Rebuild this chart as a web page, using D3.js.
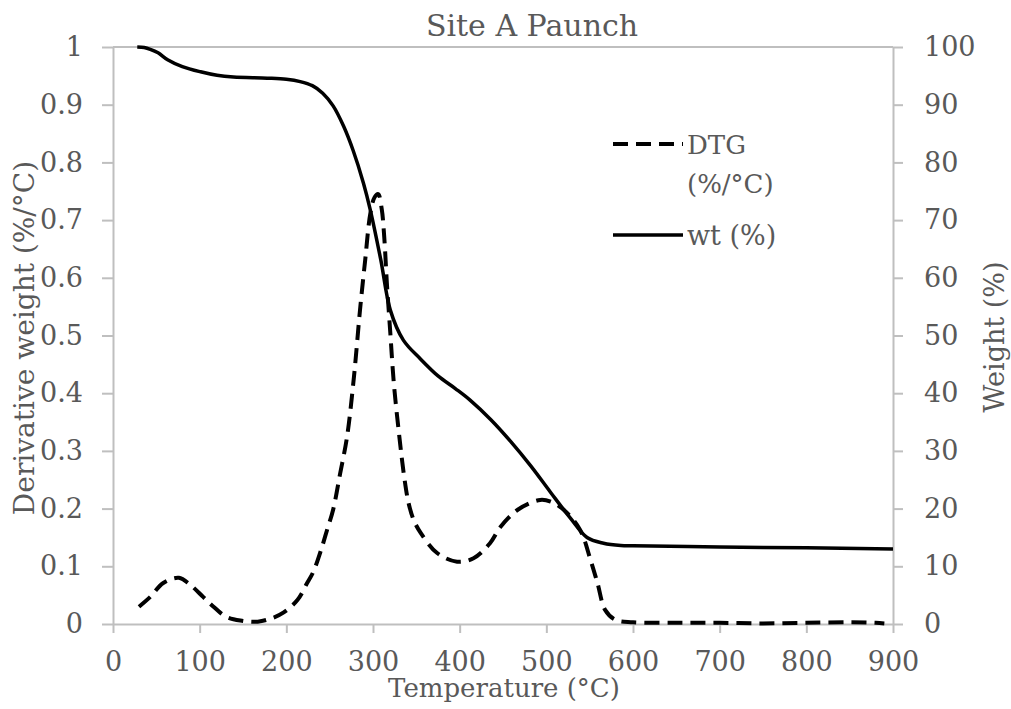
<!DOCTYPE html>
<html>
<head>
<meta charset="utf-8">
<script src="https://cdn.jsdelivr.net/npm/d3@7"></script>
<style>
  body { margin: 0; background: #fff; }
  text { font-family: "DejaVu Serif", serif; fill: #595959; }
</style>
</head>
<body>
<div id="chart"></div>
<script>
// temperature (°C) and weight (%)
var wtTemp = [28, 36, 43, 52, 63, 80, 101, 120, 139, 178, 200, 216, 230, 242, 254, 266, 277, 289, 297, 309, 320, 335, 355, 375, 395, 412, 436, 459, 482, 505, 528, 547, 566, 586, 600, 700, 800, 900];
var wtValue = [100, 99.9, 99.6, 99.0, 97.8, 96.6, 95.7, 95.1, 94.8, 94.6, 94.4, 94.0, 93.3, 92.0, 89.8, 86.3, 82.1, 76.4, 71.7, 63.1, 54.4, 49.2, 45.9, 43.0, 40.8, 38.8, 35.4, 31.6, 27.4, 22.8, 18.3, 15.0, 14.0, 13.6, 13.55, 13.35, 13.2, 13.0];

// temperature (°C) and DTG (%/°C)
var dtgTemp = [30, 43, 58, 76, 89, 104, 116, 130, 147, 167, 185, 197, 213, 224, 231, 240, 247, 254, 262, 270, 278, 285, 291, 297, 302, 306, 310, 313, 316, 320, 324, 330, 336, 341, 347, 355, 374, 397, 416, 435, 447, 467, 493, 505, 520, 539, 551, 559, 568, 580, 600, 650, 700, 750, 800, 851, 880, 890];
var dtgValue = [0.030, 0.047, 0.071, 0.080, 0.068, 0.047, 0.030, 0.013, 0.006, 0.004, 0.011, 0.020, 0.042, 0.071, 0.090, 0.128, 0.163, 0.198, 0.260, 0.324, 0.428, 0.544, 0.631, 0.712, 0.740, 0.745, 0.720, 0.670, 0.591, 0.504, 0.418, 0.330, 0.255, 0.210, 0.180, 0.158, 0.123, 0.108, 0.114, 0.140, 0.168, 0.198, 0.215, 0.212, 0.198, 0.163, 0.111, 0.071, 0.024, 0.007, 0.003, 0.002, 0.002, 0.001, 0.002, 0.003, 0.002, 0.001];

var xTicks = [0, 100, 200, 300, 400, 500, 600, 700, 800, 900];
var leftTicks = [0, 0.1, 0.2, 0.3, 0.4, 0.5, 0.6, 0.7, 0.8, 0.9, 1];
var rightTicks = [0, 10, 20, 30, 40, 50, 60, 70, 80, 90, 100];

var cfg = { w: 1011, h: 709, left: 113, right: 893, top: 47, bot: 624 };
var axisColor = "#bfbfbf";

var svg = d3.select("#chart").append("svg")
  .attr("width", cfg.w)
  .attr("height", cfg.h);

var x = d3.scaleLinear().domain([0, 900]).range([cfg.left, cfg.right]);
var yL = d3.scaleLinear().domain([0, 1]).range([cfg.bot, cfg.top]);
var yR = d3.scaleLinear().domain([0, 100]).range([cfg.bot, cfg.top]);

// top border line at max value
svg.append("line")
  .attr("x1", cfg.left).attr("x2", cfg.right)
  .attr("y1", yL(1)).attr("y2", yL(1))
  .attr("stroke", axisColor).attr("stroke-width", 2);

function styleAxis(g) {
  g.select(".domain").attr("stroke", axisColor).attr("stroke-width", 2);
  g.selectAll(".tick line").attr("stroke", axisColor).attr("stroke-width", 2);
  g.selectAll(".tick text").attr("fill", "#595959")
    .style("font-family", "'DejaVu Serif', serif")
    .style("font-size", "27px");
}

// x axis
var gx = svg.append("g")
  .attr("transform", "translate(0," + cfg.bot + ")")
  .call(d3.axisBottom(x).tickValues(xTicks).tickSize(9).tickSizeOuter(0).tickPadding(19));
styleAxis(gx);

// left axis
var gl = svg.append("g")
  .attr("transform", "translate(" + cfg.left + ",0)")
  .call(d3.axisLeft(yL).tickValues(leftTicks).tickSize(11).tickSizeOuter(0).tickPadding(19)
    .tickFormat(function(d) { return d3.format("")(+d.toFixed(1)); }));
styleAxis(gl);

// right axis
var gr = svg.append("g")
  .attr("transform", "translate(" + cfg.right + ",0)")
  .call(d3.axisRight(yR).tickValues(rightTicks).tickSize(10).tickSizeOuter(0).tickPadding(21));
styleAxis(gr);

// lines
var wtLine = d3.line()
  .x(function(d, i) { return x(wtTemp[i]); })
  .y(function(d) { return yR(d); })
  .curve(d3.curveCatmullRom.alpha(0.5));

var dtgLine = d3.line()
  .x(function(d, i) { return x(dtgTemp[i]); })
  .y(function(d) { return yL(d); })
  .curve(d3.curveCatmullRom.alpha(0.5));

svg.append("path")
  .attr("d", dtgLine(dtgValue))
  .attr("fill", "none")
  .attr("stroke", "#000")
  .attr("stroke-width", 4)
  .attr("stroke-dasharray", "15,8");

svg.append("path")
  .attr("d", wtLine(wtValue))
  .attr("fill", "none")
  .attr("stroke", "#000")
  .attr("stroke-width", 3.5);

// title and axis labels
svg.append("text")
  .attr("x", 532).attr("y", 36)
  .attr("text-anchor", "middle")
  .style("font-size", "30px")
  .text("Site A Paunch");

svg.append("text")
  .attr("x", 504).attr("y", 697)
  .attr("text-anchor", "middle")
  .style("font-size", "26px")
  .text("Temperature (°C)");

svg.append("text")
  .attr("transform", "translate(34,338) rotate(-90)")
  .attr("text-anchor", "middle")
  .style("font-size", "28px")
  .text("Derivative weight (%/°C)");

svg.append("text")
  .attr("transform", "translate(1004,337) rotate(-90)")
  .attr("text-anchor", "middle")
  .style("font-size", "27px")
  .text("Weight (%)");

// legend
var legend = svg.append("g");
legend.append("line")
  .attr("x1", 613).attr("x2", 683).attr("y1", 144).attr("y2", 144)
  .attr("stroke", "#000").attr("stroke-width", 4).attr("stroke-dasharray", "15,8");
legend.append("text")
  .attr("x", 687).attr("y", 154)
  .style("font-size", "26px")
  .text("DTG");
legend.append("text")
  .attr("x", 687).attr("y", 193)
  .style("font-size", "26px")
  .text("(%/°C)");
legend.append("line")
  .attr("x1", 613).attr("x2", 683).attr("y1", 235).attr("y2", 235)
  .attr("stroke", "#000").attr("stroke-width", 3.5);
legend.append("text")
  .attr("x", 687).attr("y", 245)
  .style("font-size", "27px")
  .text("wt (%)");
</script>
</body>
</html>
